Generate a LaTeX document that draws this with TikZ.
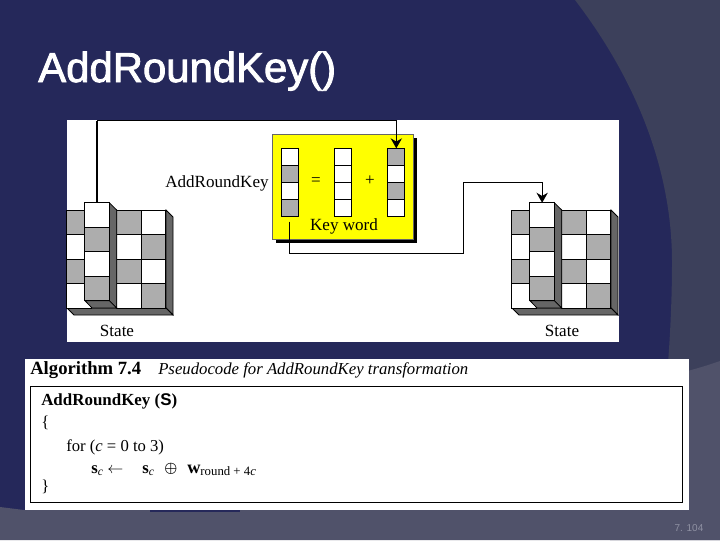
\documentclass[tikz,border=0pt]{standalone}
\usepackage{fontspec}
\usepackage{amsmath}
\setmainfont{Liberation Serif}
\setsansfont{Liberation Sans}
\newfontfamily\titlefont[FakeBold=2]{Liberation Sans}
\definecolor{navy}{HTML}{25285A}
\definecolor{midb}{HTML}{3C405B}
\definecolor{lowb}{HTML}{50526A}
\definecolor{cellg}{HTML}{ADADAD}
\definecolor{sideg}{HTML}{666666}
\definecolor{boxy}{HTML}{FFFF00}
\definecolor{pagec}{HTML}{8F91A3}
\usetikzlibrary{arrows.meta}
\tikzset{
 x=0.75pt,y=-0.75pt,
 cellw/.style={draw=black,line width=0.8pt,fill=white,minimum width=18.4pt,minimum height=18.4pt,inner sep=0pt,outer sep=0pt},
 cellg/.style={cellw,fill=cellg},
 wordw/.style={draw=black,line width=0.8pt,fill=white,minimum width=12.9pt,minimum height=12.75pt,inner sep=0pt,outer sep=0pt},
 wordg/.style={wordw,fill=cellg},
 side/.style={draw=black,line width=0.6pt,fill=sideg},
 lbl/.style={inner sep=0pt,font=\fontsize{12.8pt}{13pt}\selectfont,text=black},
 algo/.style={inner sep=0pt,anchor=base west,text=black},
 wire/.style={draw=black,line width=0.8pt},
 tip/.style={-{Stealth[length=7.5pt,width=8.5pt]}},
}
\newcommand{\stateblock}[2]{%
 \begin{scope}[shift={(#1,0)}]
  \draw[side] (166,210)--(173,217)--(173,315)--(166,308)--cycle;
  \draw[side] (67,308)--(74,315)--(173,315)--(166,308)--cycle;
  \node[cellg] at (79.2,222.3) {};
  \node[cellw] at (79.2,246.8) {};
  \node[cellg] at (79.2,271.4) {};
  \node[cellw] at (79.2,296) {};
  \node[cellg] at (129,222.3) {};
  \node[cellw] at (129,246.8) {};
  \node[cellg] at (129,271.4) {};
  \node[cellw] at (129,296) {};
  \node[cellw] at (153.5,222.3) {};
  \node[cellg] at (153.5,246.8) {};
  \node[cellw] at (153.5,271.4) {};
  \node[cellg] at (153.5,296) {};
  \draw[side] (109.3,202.7)--(116.7,210)--(116.7,308)--(109.3,300.7)--cycle;
  \draw[side] (85,300.7)--(92,308)--(116.7,308)--(109.3,300.7)--cycle;
  \node[cellw] (#2a) at (97.15,215) {};
  \node[cellg] (#2b) at (97.15,239.5) {};
  \node[cellw] (#2c) at (97.15,264) {};
  \node[cellg] (#2d) at (97.15,288.5) {};
 \end{scope}}
\begin{document}
\begin{tikzpicture}
\useasboundingbox (0,0) rectangle (720,540);
\fill[navy] (0,0) rectangle (720,540);
\fill[midb] (575,0) .. controls (640,85) and (672,175) .. (672,262) .. controls (672,300) and (670,340) .. (667,376) -- (610,510) -- (720,510) -- (720,0) -- cycle;
\fill[lowb] (0,507) -- (24,510) -- (720,510) -- (720,540) -- (0,540) -- cycle;
\fill[lowb] (667,376) .. controls (685,372) and (703,367) .. (720,361) -- (720,540) -- (610,540) -- (610,510) -- (640,490) -- cycle;
\fill[navy] (150,510) rectangle (240,511.5);
% title
\node[inner sep=0pt,anchor=base west,text=white,font=\titlefont\fontsize{31.4pt}{32pt}\selectfont] (title) at (38,82) {AddRoundKey()};
% upper panel
\fill[white] (67,120) rectangle (619,342);
\stateblock{0}{sl}
\stateblock{445}{sr}
\node[lbl] (lstate) at (117,331) {State};
\node[lbl] (rstate) at (562,331) {State};
\node[lbl] (ark) at (217,183) {AddRoundKey};
% yellow box
\fill[black] (276,138) rectangle (416.7,242.7);
\node[draw=black!60,fill=boxy,line width=0.4pt,minimum width=105.7pt,minimum height=78.7pt,inner sep=0pt,anchor=north west] (ybox) at (272.3,134.3) {};
\node[wordw] (k1a) at (290,156.8) {};
\node[wordg] (k1b) at (290,173.8) {};
\node[wordw] (k1c) at (290,190.8) {};
\node[wordg] (k1d) at (290,207.8) {};
\node[wordw] (k2a) at (343.2,156.8) {};
\node[wordw] (k2b) at (343.2,173.8) {};
\node[wordw] (k2c) at (343.2,190.8) {};
\node[wordw] (k2d) at (343.2,207.8) {};
\node[wordg] (k3a) at (396.3,156.8) {};
\node[wordw] (k3b) at (396.3,173.8) {};
\node[wordg] (k3c) at (396.3,190.8) {};
\node[wordw] (k3d) at (396.3,207.8) {};
\node[lbl] (eq) at (316,182) {=};
\node[lbl] (pl) at (370,181) {+};
\node[lbl] (kw) at (344,226) {Key word};
% connectors
\coordinate (t1) at (96.7,120.5);
\coordinate (t2) at (396.3,120.5);
\draw[wire,line width=1.1pt] (sla.north) -- (sla.north |- t1);
\draw[wire,tip] (sla.north |- t1) -- (t2) -- (k3a.north);
\coordinate (s0) at (289.5,221.7);
\coordinate (b1) at (289.5,253.7);
\coordinate (b2) at (463.3,253.7);
\coordinate (b3) at (463.3,182.7);
\draw[wire,tip] (s0) -- (b1) -- (b2) -- (b3) -- (b3 -| sra.north) -- (sra.north);
% lower panel
\node[fill=white,minimum width=498.3pt,minimum height=113.3pt,inner sep=0pt,anchor=north west] (alg) at (24.3,358.3) {};
\node[draw=black,line width=1pt,minimum width=489pt,minimum height=87pt,inner sep=0pt,anchor=north west] (algbox) at (29.7,385.7) {};
\node[algo,font=\bfseries\fontsize{14pt}{14pt}\selectfont] (a1) at (30,374) {Algorithm 7.4};
\node[algo,font=\itshape\fontsize{12.55pt}{13pt}\selectfont] (a2) at (158,374) {Pseudocode for AddRoundKey transformation};
\node[algo,font=\bfseries\fontsize{12.7pt}{13pt}\selectfont] (a3) at (41,405) {AddRoundKey ({\sffamily S})};
\node[algo,font=\fontsize{12.5pt}{13pt}\selectfont] (a4) at (41,427) {\{};
\node[algo,font=\fontsize{12.5pt}{13pt}\selectfont] (a5) at (66,451) {for (\textit{c} = 0 to 3)};
\node[algo,font=\fontsize{12.5pt}{13pt}\selectfont] (a6) at (91,473) {\textbf{s}\textsubscript{\textit{c}}};
\node[inner sep=0pt,anchor=base west,font=\fontsize{13pt}{13pt}\selectfont] (a7) at (107,473) {$\leftarrow$};
\node[algo,font=\fontsize{12.5pt}{13pt}\selectfont] (a8) at (142,473) {\textbf{s}\textsubscript{\textit{c}}};
\node[inner sep=0pt,anchor=base west,font=\fontsize{11pt}{11pt}\selectfont] (a9) at (164,472.5) {$\boldsymbol{\oplus}$};
\node[algo,font=\fontsize{13.7pt}{14pt}\selectfont] (a10) at (187,473) {\textbf{w}\textsubscript{round + 4\textit{c}}};
\node[algo,font=\fontsize{12.5pt}{13pt}\selectfont] (a11) at (41,491) {\}};
\node[inner sep=0pt,text=pagec,font=\sffamily\fontsize{7.5pt}{8pt}\selectfont] (pg) at (689,528) {7. 104};
\end{tikzpicture}
\end{document}
